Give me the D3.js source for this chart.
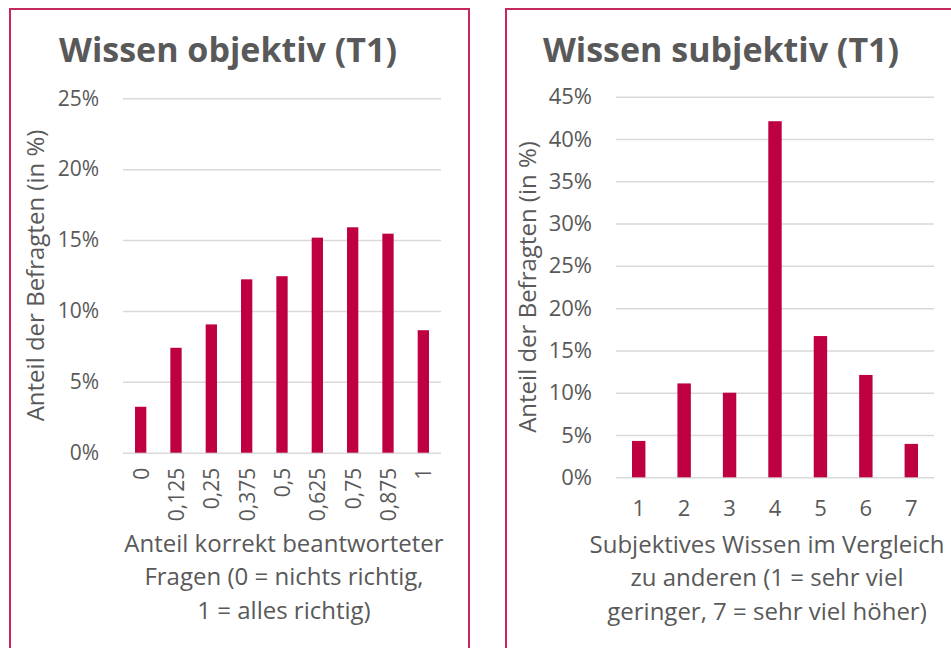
<!DOCTYPE html>
<html>
<head>
<meta charset="utf-8">
<script src="https://cdn.jsdelivr.net/npm/d3@7/dist/d3.min.js"></script>
<style>
  body { margin: 0; background: #fff; overflow: hidden; }
  svg { display: block; font-family: 'Open Sans', sans-serif; }
</style>
</head>
<body>
<svg id="chart" width="951" height="648"></svg>
<script>
// objective knowledge (share of correct answers)
const objCategories = ['0', '0,125', '0,25', '0,375', '0,5', '0,625', '0,75', '0,875', '1'];
const objValues = [3.24, 7.4, 9.05, 12.23, 12.45, 15.17, 15.9, 15.45, 8.64];
const objTicks = [0, 5, 10, 15, 20, 25];

// subjective knowledge (scale 1-7)
const subjCategories = ['1', '2', '3', '4', '5', '6', '7'];
const subjValues = [4.3, 11.1, 10.0, 42.1, 16.7, 12.1, 3.95];
const subjTicks = [0, 5, 10, 15, 20, 25, 30, 35, 40, 45];

const barColor = '#be0042';
const borderColor = '#c6285a';
const textColor = '#595959';
const gridColor = '#d9d9d9';

const svg = d3.select('#chart');

// panel borders
svg.append('rect')
  .attr('x', 10).attr('y', 9).attr('width', 459).attr('height', 700)
  .attr('fill', 'none').attr('stroke', borderColor).attr('stroke-width', 2);
svg.append('rect')
  .attr('x', 506).attr('y', 9).attr('width', 500).attr('height', 700)
  .attr('fill', 'none').attr('stroke', borderColor).attr('stroke-width', 2);

function drawPanel(opts) {
  const { categories, values, ticks, left, right, top, bottom, title, titleX,
          yTitleX, xTitle, xTitleX, xTitleY, rotated, pad, tickSize } = opts;

  const x = d3.scaleBand().domain(categories).range([left, right]).paddingInner(pad).paddingOuter(pad / 2);
  const y = d3.scaleLinear().domain([0, d3.max(ticks)]).range([bottom, top]);

  const g = svg.append('g');

  // title
  g.append('text')
    .attr('x', titleX).attr('y', 62)
    .attr('text-anchor', 'middle')
    .attr('font-size', 34).attr('font-weight', 700)
    .attr('fill', textColor)
    .text(title);

  // gridlines + y labels
  const yAxis = g.append('g')
    .attr('transform', `translate(${left},0)`)
    .call(d3.axisLeft(y).tickValues(ticks).tickSize(-(right - left)).tickFormat(d => d + '%').tickPadding(24));
  yAxis.select('.domain').remove();
  yAxis.selectAll('.tick line').attr('stroke', gridColor).attr('stroke-width', 1.5);
  yAxis.selectAll('.tick text')
    .attr('fill', textColor).attr('font-size', tickSize).attr('font-family', "'Open Sans', sans-serif");

  // bars
  g.selectAll('.bar')
    .data(values)
    .enter()
    .append('rect')
    .attr('class', 'bar')
    .attr('x', (d, i) => x(categories[i]))
    .attr('width', x.bandwidth())
    .attr('y', d => y(d))
    .attr('height', d => y(0) - y(d))
    .attr('fill', barColor);

  // x labels
  const xAxis = g.append('g')
    .attr('transform', `translate(0,${bottom})`)
    .call(d3.axisBottom(x).tickSize(0).tickPadding(rotated ? 15 : 23));
  xAxis.select('.domain').remove();
  const xt = xAxis.selectAll('.tick text')
    .attr('fill', textColor).attr('font-size', tickSize).attr('font-family', "'Open Sans', sans-serif");
  if (rotated) {
    xt.attr('transform', 'rotate(-90)')
      .attr('text-anchor', 'end')
      .attr('x', -15).attr('y', 0).attr('dy', '0.38em');
  } else {
    xt.attr('dy', '0.71em');
  }

  // y axis title
  g.append('text')
    .attr('transform', `translate(${yTitleX},${(top + bottom) / 2}) rotate(-90)`)
    .attr('text-anchor', 'middle')
    .attr('font-size', 24)
    .attr('fill', textColor)
    .text('Anteil der Befragten (in %)');

  // x axis title
  const xtText = g.append('text')
    .attr('text-anchor', 'middle')
    .attr('font-size', 24)
    .attr('fill', textColor);
  xTitle.forEach((line, i) => {
    xtText.append('tspan').attr('x', xTitleX).attr('y', xTitleY + i * 33.3).text(line);
  });
}

drawPanel({
  categories: objCategories, values: objValues, ticks: objTicks,
  left: 123, right: 441, top: 98.3, bottom: 452.7,
  title: 'Wissen objektiv (T1)', titleX: 228,
  yTitleX: 44, rotated: true, pad: 0.68, tickSize: 21,
  xTitle: ['Anteil korrekt beantworteter', 'Fragen (0 = nichts richtig,', '1 = alles richtig)'],
  xTitleX: 284, xTitleY: 552
});

drawPanel({
  categories: subjCategories, values: subjValues, ticks: subjTicks,
  left: 616, right: 934, top: 96.7, bottom: 477.3,
  title: 'Wissen subjektiv (T1)', titleX: 721,
  yTitleX: 536, rotated: false, pad: 0.705, tickSize: 22,
  xTitle: ['Subjektives Wissen im Vergleich', 'zu anderen (1 = sehr viel', 'geringer, 7 = sehr viel höher)'],
  xTitleX: 767, xTitleY: 553
});
</script>
</body>
</html>
